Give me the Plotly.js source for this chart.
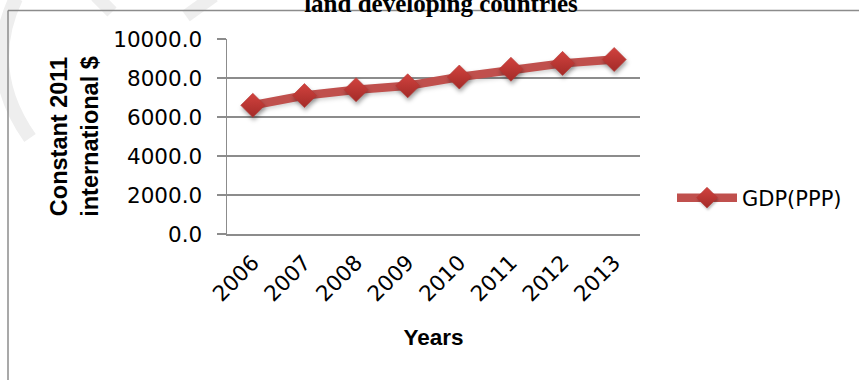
<!DOCTYPE html>
<html>
<head>
<meta charset="utf-8">
<script src="https://cdn.plot.ly/plotly-3.0.1.min.js"></script>
<style>
  html, body { margin: 0; padding: 0; background: #ffffff; }
  #chart { width: 859px; height: 380px; }
  /* soft drop shadow under the series, as in office-style charts */
  .scatterlayer .points path { filter: drop-shadow(1px 3px 2px rgba(0,0,0,0.35)); }
  .scatterlayer .js-line { filter: drop-shadow(1px 2px 2px rgba(0,0,0,0.18)); }
  .legend .legendpoints path { filter: drop-shadow(1px 2px 1px rgba(0,0,0,0.25)); }
</style>
</head>
<body>
<div id="chart"></div>
<script>
// GDP per capita, PPP (constant 2011 international $)
const years = ['2006', '2007', '2008', '2009', '2010', '2011', '2012', '2013'];
const gdpPPP = [6600, 7100, 7400, 7600, 8050, 8450, 8750, 8950];
const seriesName = 'GDP(PPP)';
const yTicks = [0, 2000, 4000, 6000, 8000, 10000];

const axisGrey = '#8c8c8c';
const lineRed = '#C0504D';
const tickFont = { family: 'DejaVu Sans', size: 21.5, color: '#000000' };
const yTitleFont = { family: 'Liberation Sans', size: 23.5, color: '#000000', weight: 'bold' };
const xTitleFont = { family: 'Liberation Sans', size: 22.5, color: '#000000', weight: 'bold' };

// plot-area geometry in pixels, used to place the frame and backdrop strokes
const M = { l: 227, r: 219, t: 39, b: 146 };
const W = 859, H = 380;
const pw = W - M.l - M.r, ph = H - M.t - M.b;
const px = v => (v - M.l) / pw;          // page x -> paper x
const py = v => (H - M.b - v) / ph;      // page y -> paper y

const trace = {
  type: 'scatter',
  mode: 'lines+markers',
  name: seriesName,
  x: years,
  y: gdpPPP,
  line: { color: lineRed, width: 8.5 },
  marker: {
    symbol: 'diamond',
    size: 18.5,
    color: '#D1423E',
    gradient: { type: 'vertical', color: '#A32B28' },
    line: { width: 0.6, color: '#B53633' }
  }
};

const shapes = [
  // faint backdrop strokes
  { type: 'path', xref: 'paper', yref: 'paper', layer: 'below',
    path: `M${px(16)},${py(-2)} Q${px(-18)},${py(70)} ${px(30)},${py(138)}`,
    line: { color: '#eeeeee', width: 14 } },
  { type: 'line', xref: 'paper', yref: 'paper', layer: 'below',
    x0: px(96), y0: py(-4), x1: px(112), y1: py(12),
    line: { color: '#eeeeee', width: 13 } },
  { type: 'line', xref: 'paper', yref: 'paper', layer: 'below',
    x0: px(214), y0: py(-4), x1: px(186), y1: py(16),
    line: { color: '#eeeeee', width: 13 } },
  // chart frame (left and top edges)
  { type: 'line', xref: 'paper', yref: 'paper', layer: 'below',
    x0: px(8), y0: py(390), x1: px(8), y1: py(10.5),
    line: { color: axisGrey, width: 1.5 } },
  { type: 'line', xref: 'paper', yref: 'paper', layer: 'below',
    x0: px(8), y0: py(10.5), x1: px(870), y1: py(10.5),
    line: { color: axisGrey, width: 1.5 } }
];

const layout = {
  width: W,
  height: H,
  margin: M,
  paper_bgcolor: '#ffffff',
  plot_bgcolor: '#ffffff',
  showlegend: true,
  title: {
    text: 'land developing countries',
    font: { family: 'Liberation Serif', size: 25, color: '#000000', weight: 'bold' },
    xref: 'container', x: 441 / W, xanchor: 'center',
    yref: 'container', y: 1 - 3.5 / H, yanchor: 'middle'
  },
  xaxis: {
    type: 'category',
    range: [-0.5, years.length - 0.5],
    showgrid: false,
    showline: true,
    linecolor: axisGrey,
    linewidth: 1.5,
    ticks: '',
    tickangle: -45,
    tickfont: tickFont,
    ticklabelstandoff: 6,
    fixedrange: true,
    title: { text: 'Years', font: xTitleFont, standoff: 24 }
  },
  yaxis: {
    range: [0, 10000],
    tickvals: yTicks,
    tickformat: '.1f',
    showgrid: true,
    gridcolor: axisGrey,
    gridwidth: 1.5,
    showline: true,
    linecolor: axisGrey,
    linewidth: 1.5,
    ticks: 'outside',
    ticklen: 9,
    tickwidth: 1.5,
    tickcolor: axisGrey,
    tickfont: tickFont,
    ticklabelstandoff: 10,
    zeroline: false,
    fixedrange: true,
    title: { text: 'Constant 2011<br>international $', font: yTitleFont, standoff: 8 }
  },
  legend: {
    x: px(672), xanchor: 'left',
    y: py(198), yanchor: 'middle',
    font: { family: 'DejaVu Sans', size: 21, color: '#000000' },
    itemwidth: 60,
    bgcolor: 'rgba(0,0,0,0)'
  },
  shapes: shapes
};

Plotly.newPlot('chart', [trace], layout, { staticPlot: true, displayModeBar: false });
</script>
</body>
</html>
